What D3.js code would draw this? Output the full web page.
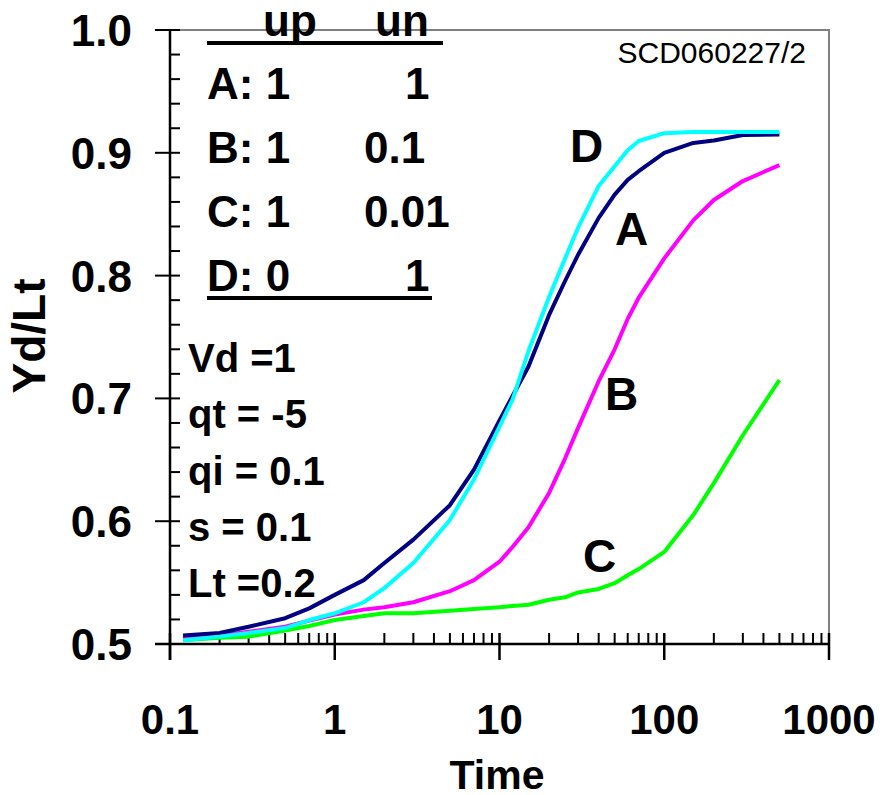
<!DOCTYPE html>
<html>
<head>
<meta charset="utf-8">
<script src="https://cdn.jsdelivr.net/npm/d3@7"></script>
<style>
  body { margin: 0; background: #fff; }
  svg { font-family: "Liberation Sans", Arial, sans-serif; }
</style>
</head>
<body>
<svg id="chart" width="880" height="795"></svg>
<script>
// values
const times = [0.12, 0.2, 0.3, 0.5, 0.7, 1, 1.5, 2, 3, 5, 7, 10, 12, 15, 20, 25, 30, 40, 50, 60, 70, 100, 150, 200, 300, 500];
const seriesA = [0.507, 0.509, 0.514, 0.521, 0.529, 0.540, 0.552, 0.566, 0.585, 0.613, 0.642, 0.682, 0.702, 0.726, 0.768, 0.7956, 0.817, 0.847, 0.866, 0.878, 0.885, 0.900, 0.908, 0.910, 0.9145, 0.915];
const seriesB = [0.504, 0.507, 0.510, 0.514, 0.519, 0.524, 0.528, 0.530, 0.534, 0.543, 0.552, 0.567, 0.579, 0.595, 0.623, 0.651, 0.676, 0.714, 0.740, 0.7647, 0.782, 0.814, 0.845, 0.8616, 0.877, 0.890];
const seriesC = [0.503, 0.505, 0.506, 0.511, 0.5147, 0.5195, 0.5228, 0.525, 0.525, 0.527, 0.5285, 0.530, 0.531, 0.532, 0.536, 0.538, 0.542, 0.5448, 0.5495, 0.556, 0.561, 0.575, 0.605, 0.631, 0.670, 0.715];
const seriesD = [0.503, 0.506, 0.509, 0.513, 0.5195, 0.525, 0.534, 0.5455, 0.566, 0.601, 0.634, 0.677, 0.699, 0.7386, 0.7826, 0.814, 0.839, 0.873, 0.889, 0.902, 0.9096, 0.916, 0.917, 0.917, 0.917, 0.917];

const xTicks = [0.1, 1, 10, 100, 1000];
const xTickLabels = ["0.1", "1", "10", "100", "1000"];
const yTicks = [0.5, 0.6, 0.7, 0.8, 0.9, 1.0];
const yTickLabels = ["0.5", "0.6", "0.7", "0.8", "0.9", "1.0"];

const tableHead = ["up", "un"];
const tableRows = [["A: 1", "1"], ["B: 1", "0.1"], ["C: 1", "0.01"], ["D: 0", "1"]];
const params = ["Vd =1", "qt = -5", "qi = 0.1", "s = 0.1", "Lt =0.2"];

const svg = d3.select('#chart');
const pLeft = 170, pRight = 829, pTop = 30, pBottom = 644;

const x = d3.scaleLog().domain([0.1, 1000]).range([pLeft, pRight]);
const y = d3.scaleLinear().domain([0.5, 1.0]).range([pBottom, pTop]);

// frame (grey top/right)
svg.append('path')
  .attr('d', `M${pLeft},${pTop}H${pRight}V${pBottom}`)
  .attr('fill', 'none').attr('stroke', '#808080').attr('stroke-width', 2);

// y axis
const gy = svg.append('g').attr('stroke', '#000');
gy.append('line').attr('x1', pLeft).attr('x2', pLeft).attr('y1', pTop).attr('y2', pBottom + 16).attr('stroke-width', 2.5);
d3.range(0.5, 1.0001, 0.02).forEach(v => {
  const major = Math.abs(Math.round(v * 10) - v * 10) < 1e-6;
  gy.append('line')
    .attr('x1', major ? pLeft - 15 : pLeft).attr('x2', pLeft + 10)
    .attr('y1', y(v)).attr('y2', y(v)).attr('stroke-width', 2);
});
svg.selectAll('.ylab').data(yTicks).join('text')
  .attr('x', 132).attr('y', d => y(d) + 16)
  .attr('text-anchor', 'end').attr('font-size', 44).attr('font-weight', 'bold')
  .text((d, i) => yTickLabels[i]);

// x axis
const gx = svg.append('g').attr('stroke', '#000');
gx.append('line').attr('x1', pLeft - 15).attr('x2', pRight).attr('y1', pBottom).attr('y2', pBottom).attr('stroke-width', 2.5);
[0.1, 1, 10, 100].forEach(dec => {
  for (let k = 2; k <= 9; k++) {
    gx.append('line').attr('x1', x(dec * k)).attr('x2', x(dec * k))
      .attr('y1', pBottom - 11).attr('y2', pBottom).attr('stroke-width', 2);
  }
});
xTicks.forEach(t => {
  gx.append('line').attr('x1', x(t)).attr('x2', x(t))
    .attr('y1', pBottom - 11).attr('y2', pBottom + 16).attr('stroke-width', 2.5);
});
svg.selectAll('.xlab').data(xTicks).join('text')
  .attr('x', d => x(d)).attr('y', 734)
  .attr('text-anchor', 'middle').attr('font-size', 42).attr('font-weight', 'bold')
  .text((d, i) => xTickLabels[i]);

// axis titles
svg.append('text').attr('x', 497).attr('y', 789)
  .attr('text-anchor', 'middle').attr('font-size', 41).attr('font-weight', 'bold').text('Time');
svg.append('text').attr('transform', 'translate(45,336) rotate(-90)')
  .attr('text-anchor', 'middle').attr('font-size', 46).attr('font-weight', 'bold').text('Yd/Lt');

// curves
const line = d3.line().x((d, i) => x(times[i])).y(d => y(d));
const curves = [
  { vals: seriesC, color: '#00ff00' },
  { vals: seriesB, color: '#ff00ff' },
  { vals: seriesA, color: '#000080' },
  { vals: seriesD, color: '#00ffff' }
];
curves.forEach(c => {
  svg.append('path').attr('d', line(c.vals))
    .attr('fill', 'none').attr('stroke', c.color).attr('stroke-width', 4)
    .attr('stroke-linejoin', 'round');
});

// curve labels
const curveLabels = [['D', 570, 162], ['A', 615, 245], ['B', 605, 410], ['C', 583, 572]];
curveLabels.forEach(l => {
  svg.append('text').attr('x', l[1]).attr('y', l[2])
    .attr('font-size', 46).attr('font-weight', 'bold').text(l[0]);
});

// table at top left
svg.append('text').attr('x', 263).attr('y', 36).attr('font-size', 44).attr('font-weight', 'bold').text(tableHead[0]);
svg.append('text').attr('x', 375).attr('y', 36).attr('font-size', 44).attr('font-weight', 'bold').text(tableHead[1]);
svg.append('line').attr('x1', 207).attr('x2', 443).attr('y1', 43).attr('y2', 43).attr('stroke', '#000').attr('stroke-width', 4);
tableRows.forEach((r, i) => {
  const by = 99 + i * 64;
  svg.append('text').attr('x', 207).attr('y', by).attr('font-size', 44).attr('font-weight', 'bold').text(r[0]);
  svg.append('text').attr('x', r[1] === '1' ? 405 : 364).attr('y', by)
    .attr('font-size', 44).attr('font-weight', 'bold').text(r[1]);
});
svg.append('line').attr('x1', 207).attr('x2', 432).attr('y1', 298).attr('y2', 298).attr('stroke', '#000').attr('stroke-width', 4);

// parameters
params.forEach((p, i) => {
  svg.append('text').attr('x', 188).attr('y', 372 + i * 56.3)
    .attr('font-size', 40).attr('font-weight', 'bold').text(p);
});

svg.append('text').attr('x', 806).attr('y', 63).attr('text-anchor', 'end')
  .attr('font-size', 30).text('SCD060227/2');
</script>
</body>
</html>
